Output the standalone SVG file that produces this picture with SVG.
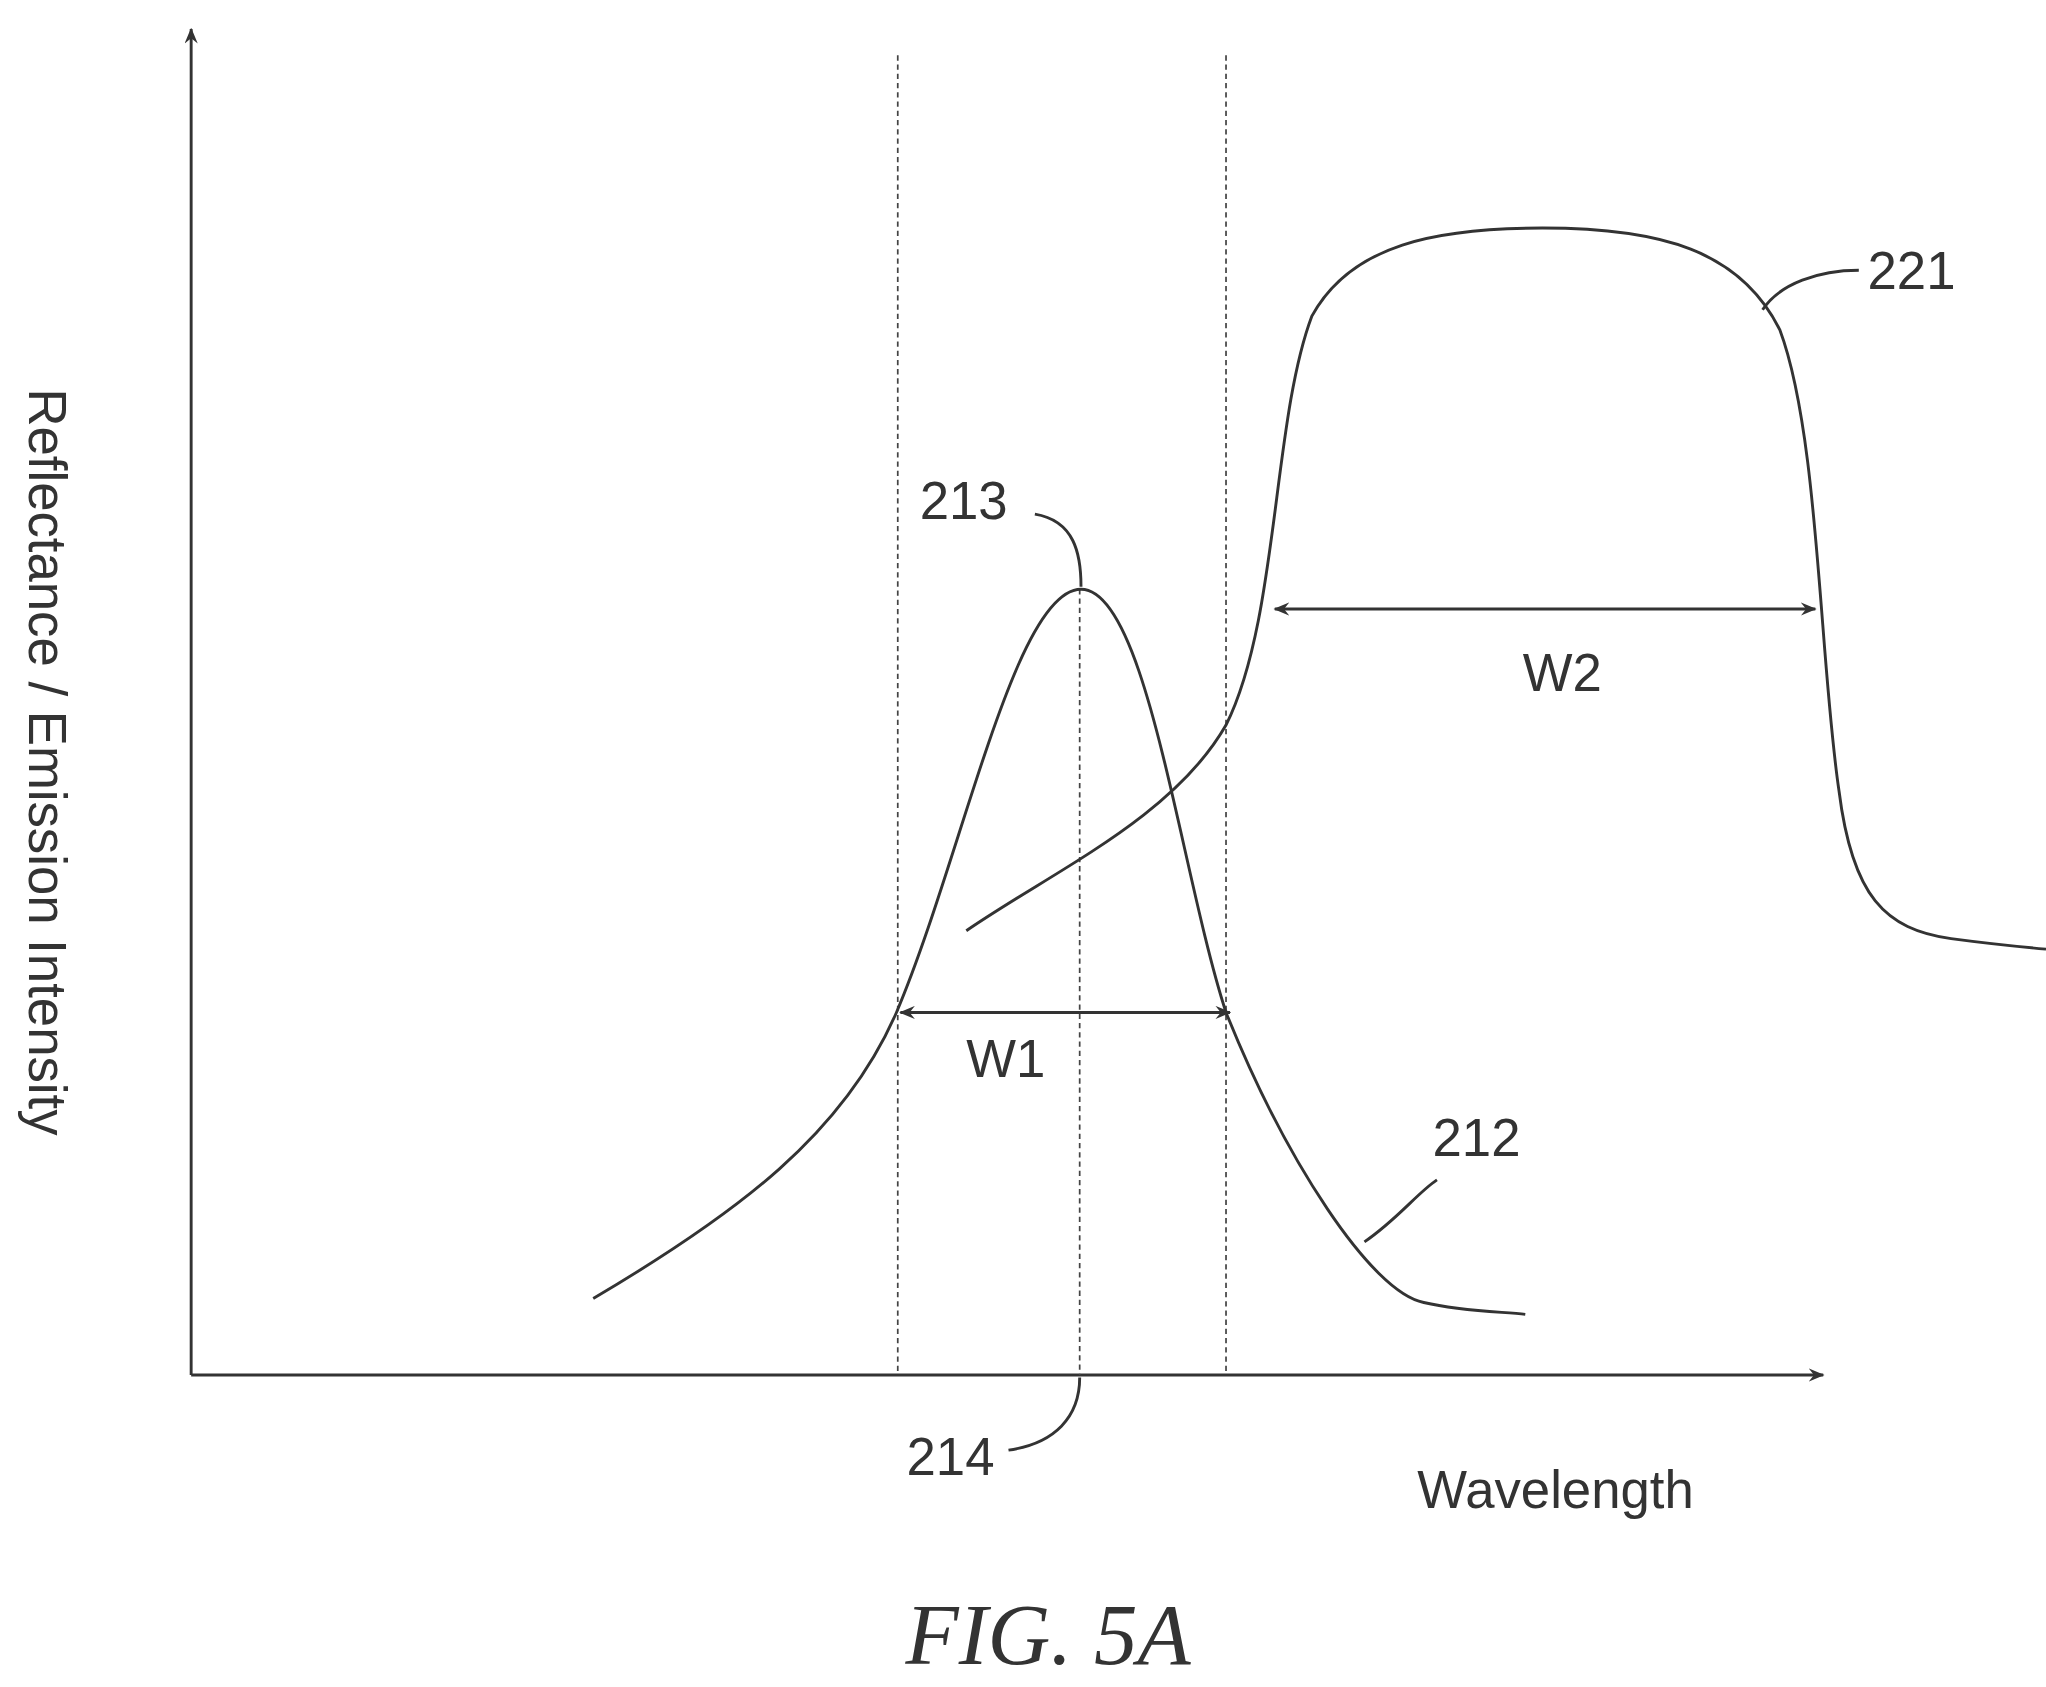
<svg xmlns="http://www.w3.org/2000/svg" width="2046" height="1687" viewBox="0 0 2046 1687">
<style>
.l{fill:none;stroke:#333;stroke-width:2.2}
.d{fill:none;stroke:#444;stroke-width:1.3;stroke-dasharray:4 3}
.t{font-family:"Liberation Sans",Arial,sans-serif;font-size:40px;fill:#333}
</style>
<defs>
<marker id="a" viewBox="0 0 12 10" refX="11" refY="5" markerWidth="12" markerHeight="10" markerUnits="userSpaceOnUse" orient="auto-start-reverse"><path d="M0,0 L12,5 L0,10 L4,5 Z" fill="#333"/></marker>
</defs>
<rect width="2046" height="1687" fill="#fff"/>
<g transform="scale(1.3183)">
<g id="axes">
<path class="l" d="M145,1043 V22" marker-end="url(#a)"/>
<path class="l" d="M145,1043 H1383" marker-end="url(#a)"/>
</g>
<g id="guides">
<path class="d" d="M681,42 V1043 M930,42 V1043 M819,447 V1043"/>
</g>
<g id="curve212"><path class="l" d="M450,985 C560,920 640,860 680,768 C730,650 770,447 820,447 C870,447 895,660 930,768 C975,880 1040,980 1080,988 C1110,995 1140,995 1157,997"/></g>
<g id="curve221"><path class="l" d="M733,706 C800,660 890,620 930,550 C970,470 965,320 995,240 C1025,185 1090,173 1170,173 C1260,173 1320,190 1350,250 C1380,330 1380,500 1395,600 C1405,680 1430,705 1480,712 C1510,716 1530,718 1552,720"/></g>
<g id="connectors">
<path class="l" d="M967,462 H1377" marker-start="url(#a)" marker-end="url(#a)"/>
<path class="l" d="M683,768 H933" marker-start="url(#a)" marker-end="url(#a)"/>
<path class="l" d="M785,390 C815,395 820,420 820,445"/>
<path class="l" d="M1337,235 C1350,215 1380,205 1410,205"/>
<path class="l" d="M1035,942 C1060,925 1075,905 1090,895"/>
<path class="l" d="M765,1100 C800,1095 819,1075 819,1045"/>
</g>
<g id="labels">
<text class="t" x="1185" y="524" text-anchor="middle">W2</text>
<text class="t" x="763" y="817" text-anchor="middle">W1</text>
<text class="t" x="731" y="394" text-anchor="middle">213</text>
<text class="t" x="1450" y="219" text-anchor="middle">221</text>
<text class="t" x="1120" y="877" text-anchor="middle">212</text>
<text class="t" x="721" y="1119" text-anchor="middle">214</text>
<text class="t" x="1180" y="1144" text-anchor="middle">Wavelength</text>
<text class="t" transform="translate(22,578) rotate(90)" text-anchor="middle">Reflectance / Emission Intensity</text>
<text x="795" y="1262" text-anchor="middle" font-family="Liberation Serif,serif" font-style="italic" font-size="66" fill="#333">FIG. 5A</text>
</g>
</g>
</svg>
